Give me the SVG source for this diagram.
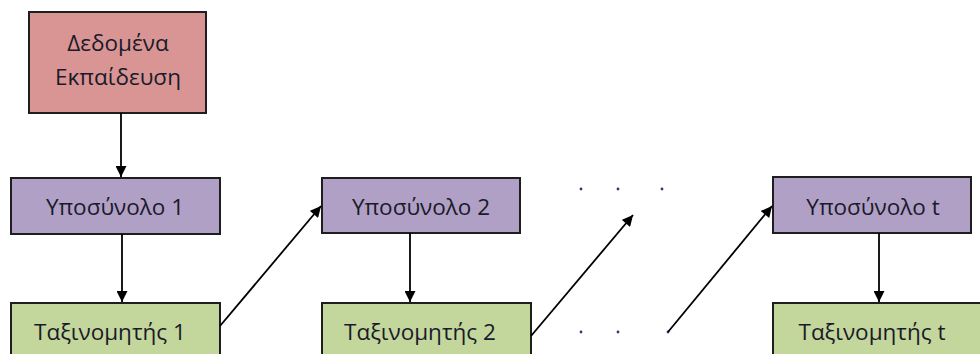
<svg xmlns="http://www.w3.org/2000/svg" width="980" height="354" viewBox="0 0 980 354">
  <style>
    .box { stroke: #1e1e1e; stroke-width: 2; }
    .data { fill: #d99594; }
    .subset { fill: #b1a0c6; }
    .clf { fill: #c3d69b; }
    .lbl { font-family: "Open Sans", "Noto Sans", "DejaVu Sans", sans-serif; font-size: 22.5px; font-weight: 500; fill: #1a1a2a; text-anchor: middle; }
    .edge { stroke: #000; stroke-width: 1.8; fill: none; marker-end: url(#head); }
    .dot { fill: #2a3a7a; }
  </style>
  <defs>
    <marker id="head" viewBox="0 0 10 10" refX="10" refY="5" markerWidth="12" markerHeight="11" markerUnits="userSpaceOnUse" orient="auto">
      <path d="M0,0 L10,5 L0,10 z" fill="#000"/>
    </marker>
  </defs>

  <g id="training-data">
    <rect class="box data" x="29" y="12" width="177" height="101"/>
    <text class="lbl" x="118" y="51">Δεδομένα</text>
    <text class="lbl" x="118" y="85">Εκπαίδευση</text>
  </g>

  <g id="subset-1">
    <rect class="box subset" x="11" y="178" width="209" height="56"/>
    <text class="lbl" x="115" y="215">Υποσύνολο 1</text>
  </g>
  <g id="classifier-1">
    <rect class="box clf" x="11" y="303" width="209" height="60"/>
    <text class="lbl" x="110" y="340">Ταξινομητής 1</text>
  </g>

  <g id="subset-2">
    <rect class="box subset" x="322" y="178" width="198" height="55"/>
    <text class="lbl" x="421" y="215">Υποσύνολο 2</text>
  </g>
  <g id="classifier-2">
    <rect class="box clf" x="322" y="303" width="209" height="60"/>
    <text class="lbl" x="420" y="340">Ταξινομητής 2</text>
  </g>

  <g id="subset-t">
    <rect class="box subset" x="773" y="177" width="198" height="56"/>
    <text class="lbl" x="873" y="215">Υποσύνολο t</text>
  </g>
  <g id="classifier-t">
    <rect class="box clf" x="773" y="303" width="215" height="60"/>
    <text class="lbl" x="872" y="340">Ταξινομητής t</text>
  </g>

  <g id="ellipsis">
    <circle class="dot" cx="581" cy="189" r="1.4"/>
    <circle class="dot" cx="618" cy="189" r="1.4"/>
    <circle class="dot" cx="662" cy="189" r="1.4"/>
    <circle class="dot" cx="581" cy="332" r="1.4"/>
    <circle class="dot" cx="618" cy="332" r="1.4"/>
    <circle class="dot" cx="668" cy="332" r="1.4"/>
  </g>

  <g id="connectors">
    <line class="edge" x1="121" y1="113" x2="121" y2="177"/>
    <line class="edge" x1="122" y1="234" x2="122" y2="302"/>
    <line class="edge" x1="220" y1="326" x2="321" y2="206"/>
    <line class="edge" x1="410" y1="233" x2="410" y2="302"/>
    <line class="edge" x1="531" y1="336" x2="633" y2="215"/>
    <line class="edge" x1="668" y1="332" x2="772" y2="206"/>
    <line class="edge" x1="879" y1="233" x2="879" y2="302"/>
  </g>
</svg>
